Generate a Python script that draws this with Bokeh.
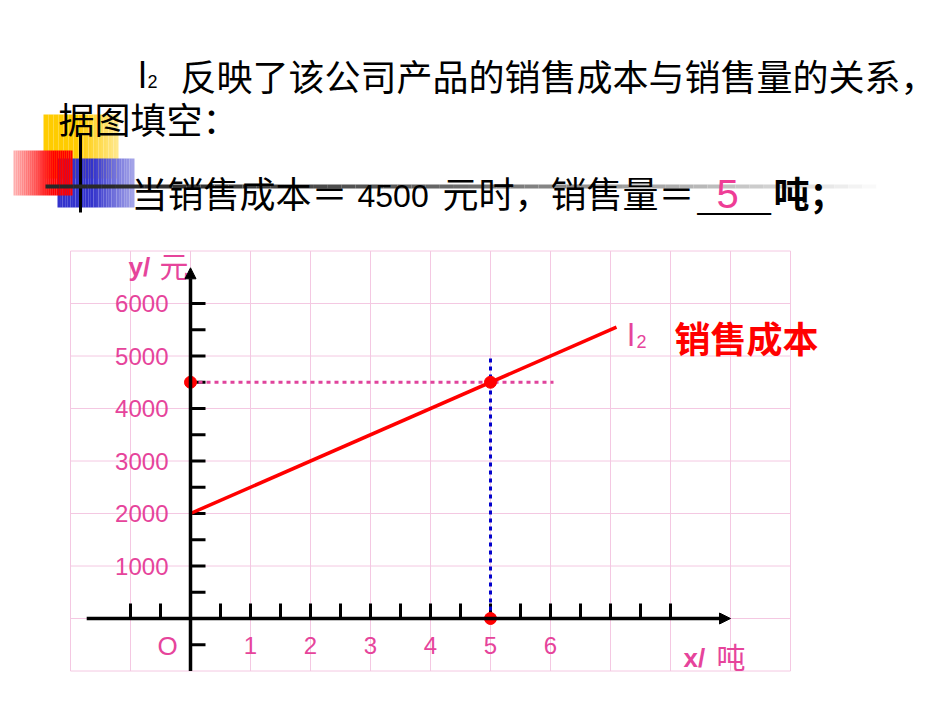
from bokeh.core.properties import value
from bokeh.embed import file_html
from bokeh.models import Arrow, NormalHead, Range1d
from bokeh.plotting import figure
from bokeh.resources import INLINE

# l2: 销售成本 (元) against 销售量 (吨)
cost_x = [0, 7.1]
cost_y = [2000, 5550]

# the read-off: cost 4500 -> 5 吨
marks_x = [0, 5, 5]
marks_y = [4500, 4500, 0]
guide_h_x = [0, 6.05]
guide_h_y = [4500, 4500]
guide_v_x = [5, 5]
guide_v_y = [0, 5000]

# axes, ticks, grid
grid_x = list(range(-2, 11))
grid_y = list(range(-1000, 8000, 1000))
x_ticks = [-1, -0.5, 0.5, 1, 1.5, 2, 2.5, 3, 3.5, 4, 4.5, 5, 5.5, 6, 6.5, 7, 7.5, 8]
y_ticks = [-500, 500, 1000, 1500, 2000, 2500, 3000, 3500, 4000, 4500, 5000, 5500, 6000]
x_labels = ["1", "2", "3", "4", "5", "6"]
x_label_pos = [1, 2, 3, 4, 5, 6]
y_labels = ["1000", "2000", "3000", "4000", "5000", "6000"]
y_label_pos = [1000, 2000, 3000, 4000, 5000, 6000]

PINK = "#e6449b"
CJK = value("Noto Sans CJK SC")
LAT = value("Liberation Sans")

W, H = 950, 712
# page pixel -> data (origin of the chart at page (190, 618), 60px per 吨, 52.5px per 1000 元)
def px(u):
    return (u - 190) / 60.0

def py(v):
    return (618 - v) / 52.5 * 1000

def fade(rgb, n, power=1.0):
    out = []
    for i in range(n):
        t = (i / (n - 1)) ** power
        r, g, b = [int(c + (255 - c) * t) for c in rgb]
        out.append("#%02x%02x%02x" % (r, g, b))
    return out

p = figure(width=W, height=H, x_range=Range1d(px(0), px(W)),
           y_range=Range1d(py(H), py(0)), toolbar_location=None,
           output_backend="svg", min_border=0)
p.axis.visible = False
p.grid.visible = False
p.outline_line_color = None

# decoration blocks at the left of the heading
def block(x0, x1, y0, y1, rgb, n=30, reverse=False, hold=0.0):
    cols = fade(rgb, n)
    k = int(n * hold)
    cols = [cols[0]] * k + cols[: n - k]
    if reverse:
        cols = cols[::-1]
    xs = [x0 + (x1 - x0) * i / n for i in range(n + 1)]
    p.quad(left=[px(a) for a in xs[:-1]], right=[px(a) for a in xs[1:]],
           bottom=py(y1), top=py(y0), fill_color=cols, line_color=None)

block(43, 118, 114, 178, (255, 204, 0), hold=0.45)
block(57, 134, 158, 207, (51, 51, 204), hold=0.45)
block(13, 72, 150, 195, (255, 0, 0), reverse=True, hold=0.3)
p.segment(px(80), py(133), px(80), py(212), line_color="black", line_width=3)
seg_n = 60
seg_x = [45 + (890 - 45) * i / seg_n for i in range(seg_n + 1)]
p.segment(x0=[px(a) for a in seg_x[:-1]], y0=py(186), x1=[px(a) for a in seg_x[1:]],
          y1=py(186), line_color=fade((40, 40, 40), seg_n, power=1.6), line_width=4)

# heading text
p.text([px(138)], [py(75)], ["l"], text_font=LAT, text_font_size="36px",
       text_baseline="middle", text_color="black")
p.text([px(147)], [py(81)], ["2"], text_font=LAT, text_font_size="18px",
       text_baseline="middle", text_color="black")
p.text([px(180)], [py(74)], ["反映了该公司产品的销售成本与销售量的关系，"], text_font=CJK,
       text_font_size="36px", text_baseline="middle", text_color="black")
p.text([px(58)], [py(117)], ["据图填空："], text_font=CJK,
       text_font_size="36px", text_baseline="middle", text_color="black")
p.text([px(131)], [py(191)], ["当销售成本＝"], text_font=CJK,
       text_font_size="36px", text_baseline="middle", text_color="black")
p.text([px(357)], [py(195)], ["4500"], text_font=LAT,
       text_font_size="32px", text_baseline="middle", text_color="black")
p.text([px(442)], [py(191)], ["元时，销售量＝"], text_font=CJK,
       text_font_size="36px", text_baseline="middle", text_color="black")
p.text([px(697)], [py(196)], ["____"], text_font=LAT,
       text_font_size="33px", text_baseline="middle", text_color="black")
p.text([px(727)], [py(193)], [str(marks_x[1])], text_font=LAT, text_font_size="40px",
       text_baseline="middle", text_align="center", text_color="#ee3d96")
p.text([px(773)], [py(191)], ["吨；"], text_font=CJK, text_font_style="bold",
       text_font_size="36px", text_baseline="middle", text_color="black")

# grid
p.segment(x0=grid_x, y0=grid_y[0], x1=grid_x, y1=grid_y[-1], line_color="#f4c8e2", line_width=1)
p.segment(x0=grid_x[0], y0=grid_y, x1=grid_x[-1], y1=grid_y, line_color="#f4c8e2", line_width=1)

# axes with arrows and ticks
p.add_layout(Arrow(x_start=-1.73, y_start=0, x_end=9.0, y_end=0, line_width=3.5,
                   end=NormalHead(size=11, fill_color="black", line_color="black")))
p.add_layout(Arrow(x_start=0, y_start=-1000, x_end=0, y_end=6680, line_width=3.5,
                   end=NormalHead(size=11, fill_color="black", line_color="black")))
p.segment(x0=x_ticks, y0=0, x1=x_ticks, y1=py(603), line_color="black", line_width=3)
p.segment(x0=0, y0=y_ticks, x1=px(205), y1=y_ticks, line_color="black", line_width=3)

p.text(x_label_pos, py(645), x_labels, text_font=LAT, text_font_size="24px",
       text_align="center", text_baseline="middle", text_color=PINK)
p.text([px(167)], [py(645)], ["O"], text_font=LAT, text_font_size="26px",
       text_align="center", text_baseline="middle", text_color=PINK)
p.text(px(168), y_label_pos, y_labels, text_font=LAT, text_font_size="24px",
       text_align="right", text_baseline="middle", text_color=PINK)
p.text([px(128)], [py(266)], ["y/"], text_font=LAT, text_font_size="26px", text_font_style="bold",
       text_baseline="middle", text_color=PINK)
p.text([px(159)], [py(264)], ["元"], text_font=CJK, text_font_size="29px",
       text_baseline="middle", text_color=PINK)
p.text([px(683)], [py(657)], ["x/"], text_font=LAT, text_font_size="26px", text_font_style="bold",
       text_baseline="middle", text_color=PINK)
p.text([px(716)], [py(655)], ["吨"], text_font=CJK, text_font_size="29px",
       text_baseline="middle", text_color=PINK)

# guides, cost line and marked points
p.line(guide_h_x, guide_h_y, line_color="#e0449c", line_width=3, line_dash="4 4")
p.line(guide_v_x, guide_v_y, line_color="#0000cc", line_width=3, line_dash="4 4")
p.line(cost_x, cost_y, line_color="#ff0000", line_width=3.5)
p.scatter(marks_x, marks_y, size=12, color="#ff0000")

p.text([px(627)], [py(334)], ["l"], text_font=LAT, text_font_size="32px",
       text_baseline="middle", text_color=PINK)
p.text([px(636)], [py(341)], ["2"], text_font=LAT, text_font_size="18px",
       text_baseline="middle", text_color=PINK)
p.text([px(674)], [py(336)], ["销售成本"], text_font=CJK, text_font_style="bold",
       text_font_size="36px", text_baseline="middle", text_color="#ff0000")

open("out.html", "w").write(file_html(p, INLINE))
